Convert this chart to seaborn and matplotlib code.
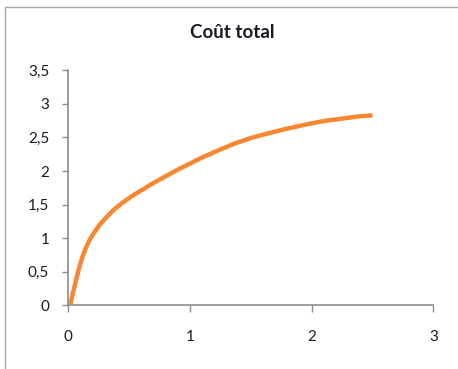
import matplotlib
matplotlib.use("Agg")
import matplotlib.pyplot as plt
from matplotlib.lines import Line2D
import seaborn as sns
import pandas as pd

# Total cost curve
quantite = [0.02, 0.04, 0.06, 0.08, 0.10, 0.12, 0.15, 0.18, 0.21, 0.26,
            0.32, 0.38, 0.45, 0.52, 0.60, 0.70, 0.80, 0.90, 1.00, 1.10,
            1.25, 1.37, 1.50, 1.62, 1.75, 1.87, 2.00, 2.12, 2.25, 2.37, 2.50]
cout_total = [0.02, 0.18, 0.33, 0.48, 0.61, 0.73, 0.87, 0.98, 1.07, 1.20,
              1.32, 1.43, 1.53, 1.62, 1.71, 1.82, 1.92, 2.02, 2.11, 2.20,
              2.32, 2.41, 2.49, 2.55, 2.61, 2.66, 2.71, 2.75, 2.78, 2.81, 2.83]

x_ticks = [0, 1, 2, 3]
y_ticks = [0, 0.5, 1, 1.5, 2, 2.5, 3, 3.5]
y_tick_labels = ["0", "0,5", "1", "1,5", "2", "2,5", "3", "3,5"]
titre = "Coût total"

df = pd.DataFrame({"x": quantite, "y": cout_total})

sns.set_theme(style="white")
plt.rcParams["font.family"] = ["Lato", "DejaVu Sans"]

W, H = 458, 369
fig = plt.figure(figsize=(W / 100, H / 100), dpi=100)
ax = fig.add_axes([68 / W, 1 - 305.3 / H, (433.3 - 68) / W, (305.3 - 70.3) / H])

sns.lineplot(data=df, x="x", y="y", ax=ax, color="#F98732", linewidth=3.2,
             solid_capstyle="butt", solid_joinstyle="round")

ax.set_xlim(0, 3)
ax.set_ylim(0, 3.5)
ax.set_xticks(x_ticks)
ax.set_xticklabels([str(v) for v in x_ticks])
ax.set_yticks(y_ticks)
ax.set_yticklabels(y_tick_labels)
ax.set_xlabel("")
ax.set_ylabel("")

axis_grey = "#8C8C8C"
for side in ("top", "right"):
    ax.spines[side].set_visible(False)
for side in ("left", "bottom"):
    ax.spines[side].set_color(axis_grey)
    ax.spines[side].set_linewidth(1.2)

text_col = "#1A1A24"
ax.tick_params(axis="y", which="major", left=True, direction="out", length=4.5,
               width=1.0, color=axis_grey, pad=9, labelsize=11, labelcolor=text_col)
ax.tick_params(axis="x", which="major", bottom=True, direction="out", length=5,
               width=1.0, color=axis_grey, pad=13, labelsize=11, labelcolor=text_col)

fig.text(232.7 / W, 1 - 33 / H, titre, ha="center", va="center",
         fontsize=13.5, fontweight="bold", color=text_col)

# Chart area frame (left and top edges)
frame_col = "#A6A6A6"
fig.add_artist(Line2D([5 / W, 5 / W], [0, 1 - 7.3 / H], transform=fig.transFigure,
                      color=frame_col, linewidth=1.0))
fig.add_artist(Line2D([5 / W, 1], [1 - 7.3 / H, 1 - 7.3 / H], transform=fig.transFigure,
                      color=frame_col, linewidth=1.0))

fig.savefig("out.png", dpi=100)
